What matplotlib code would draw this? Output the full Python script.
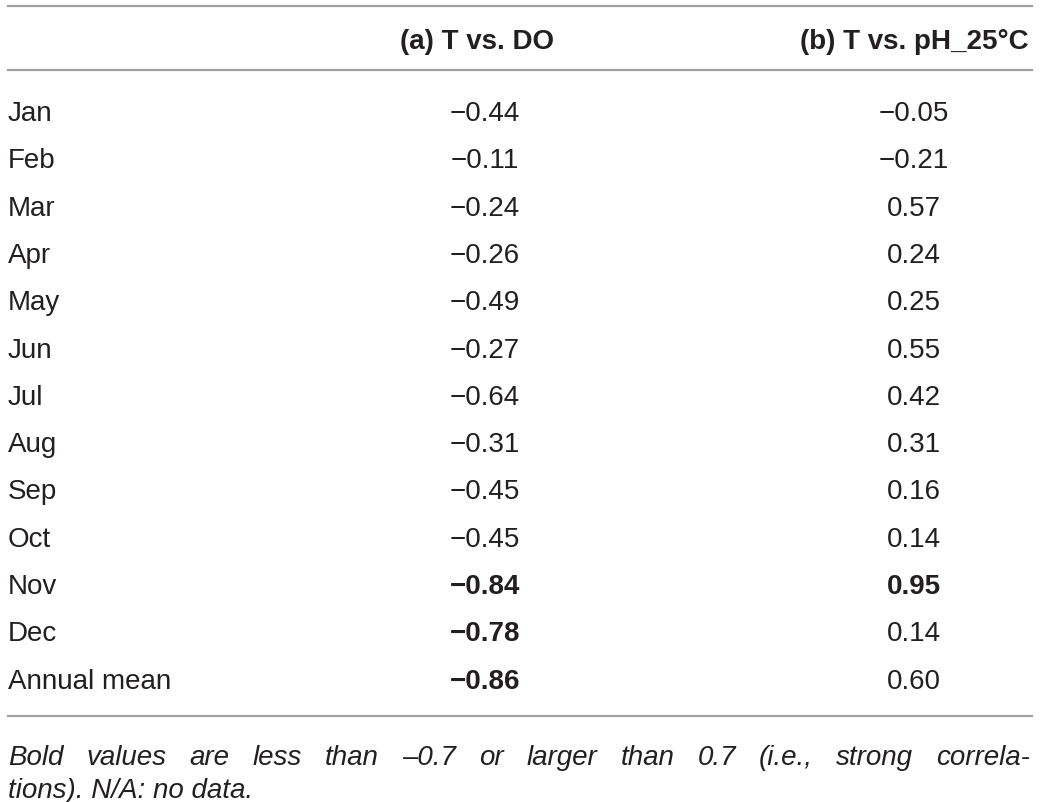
import matplotlib
matplotlib.use("Agg")
import matplotlib.pyplot as plt
from matplotlib.lines import Line2D

months = ["Jan", "Feb", "Mar", "Apr", "May", "Jun", "Jul", "Aug", "Sep", "Oct", "Nov", "Dec", "Annual mean"]
t_vs_do = [-0.44, -0.11, -0.24, -0.26, -0.49, -0.27, -0.64, -0.31, -0.45, -0.45, -0.84, -0.78, -0.86]
t_vs_ph = [-0.05, -0.21, 0.57, 0.24, 0.25, 0.55, 0.42, 0.31, 0.16, 0.14, 0.95, 0.14, 0.60]
headers = ["(a) T vs. DO", "(b) T vs. pH_25°C"]
footer_lines = ["Bold values are less than \u20130.7 or larger than 0.7 (i.e., strong correla-",
                "tions). N/A: no data."]

W, H = 1040, 802
fig = plt.figure(figsize=(W / 100, H / 100), dpi=100)
plt.rcParams['font.family'] = ['Liberation Sans', 'DejaVu Sans']
fs = 20
txt_color = "#231f20"


def px(x, y):
    return x / W, 1 - y / H


def hline(y):
    fig.add_artist(Line2D([8 / W, 1032 / W], [1 - y / H] * 2, color="#a0a0a0", lw=1.6))


hline(6)
hline(70)
hline(716)

col_x = [485, 914]
for hx, h in zip([477, 914], headers):
    fig.text(*px(hx, 42), h, fontsize=fs, fontweight="bold", ha="center", va="center", color=txt_color)

row_y0, row_dy = 114, 47.3
for i, m in enumerate(months):
    y = row_y0 + i * row_dy
    fig.text(*px(8, y), m, fontsize=fs, ha="left", va="center", color=txt_color)
    for cx, vals in zip(col_x, [t_vs_do, t_vs_ph]):
        v = vals[i]
        s = f"{v:.2f}".replace("-", "\u2212")
        fig.text(*px(cx, y), s, fontsize=fs, ha="center", va="center", color=txt_color,
                 fontweight="bold" if abs(v) > 0.7 else "normal")

# justified first footer line, plain second line
renderer = fig.canvas.get_renderer()
words = footer_lines[0].split(" ")
arts = [fig.text(0, 0, w, fontsize=fs, style="italic", color=txt_color, va="center") for w in words]
widths = [a.get_window_extent(renderer).width for a in arts]
gap = (1030 - 8 - sum(widths)) / (len(words) - 1)
x = 8
for a, w in zip(arts, widths):
    a.set_position(px(x, 758))
    x += w + gap
fig.text(*px(8, 791), footer_lines[1], fontsize=fs, style="italic", ha="left", va="center", color=txt_color)

fig.savefig("out.png", dpi=100)
